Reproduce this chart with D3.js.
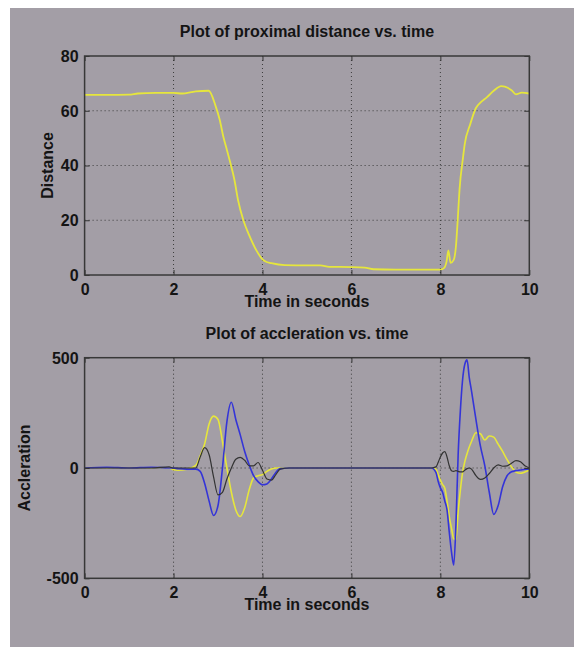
<!DOCTYPE html>
<html>
<head>
<meta charset="utf-8">
<script src="https://cdn.jsdelivr.net/npm/d3@7"></script>
<style>
  body { margin: 0; background: #fff; }
  text { font-family: "Liberation Sans", Arial, sans-serif; }
</style>
</head>
<body>
<div class="viz"></div>
<script>
const width = 574;
const height = 647;

// proximal distance vs time
const distTime = [0, 0.5, 1.0, 1.2, 1.6, 2.0, 2.2, 2.4, 2.5, 2.79, 2.95, 3.04, 3.12, 3.2, 3.28, 3.37, 3.45, 3.57,
  3.7, 3.86, 3.98, 4.07, 4.2, 4.5, 5.0, 5.3, 5.5, 6.0, 6.3, 6.5, 7.0, 7.5, 8.0, 8.08, 8.14, 8.18, 8.23, 8.3,
  8.35, 8.39, 8.43, 8.51, 8.55, 8.67, 8.8, 8.9, 9.05, 9.2, 9.37, 9.45, 9.6, 9.7, 9.83, 10];
const distance = [65.8, 65.8, 65.9, 66.3, 66.5, 66.5, 66.3, 66.8, 67.1, 67.3, 61.5, 56.6, 50.5, 45.7, 40.8, 34.7, 27.4, 20,
  14.6, 9.1, 6.1, 4.9, 4.3, 3.6, 3.5, 3.5, 3.0, 2.9, 2.7, 2.1, 2.0, 2.0, 2.0, 2.5, 5, 9, 4.4, 5.5,
  10.4, 20, 31, 43, 48, 55, 61, 63, 65, 67.3, 69, 68.8, 67.5, 66, 66.6, 66.3];

// acceleration vs time (three signals on a shared time base)
const accTime = [0, 0.5, 1.0, 1.5, 1.9, 2.0, 2.1, 2.3, 2.5, 2.6, 2.7, 2.8, 2.9, 3.0, 3.1, 3.2, 3.3, 3.4, 3.5, 3.6,
  3.7, 3.8, 3.9, 4.0, 4.1, 4.2, 4.3, 4.4, 4.6, 5.0, 6.0, 7.0, 7.8, 7.9, 7.95, 8.0, 8.05, 8.1, 8.15, 8.2,
  8.25, 8.3, 8.35, 8.4, 8.45, 8.5, 8.55, 8.6, 8.65, 8.7, 8.8, 8.9, 9.0, 9.1, 9.2, 9.3, 9.4, 9.5, 9.6, 9.7,
  9.8, 9.9, 10];
const accYellow = [0, 0, 0, 0, 0, -8, -10, -5, 12, 55, 110, 200, 235, 220, 120, 0, -110, -190, -220, -180,
  -100, -45, -35, -30, -15, -5, 0, 0, 0, 0, 0, 0, 0, -5, -30, -55, -75, -92, -150, -220,
  -273, -320, -325, -198, -100, -20, 29, 65, 95, 120, 160, 155, 127, 145, 140, 108, 75, 38, 5, -18,
  -24, -18, -10];
const accBlue = [0, 3, 0, 3, 0, 0, -3, -5, -5, -15, -70, -150, -215, -170, 0, 210, 298, 220, 150, 75,
  15, -35, -62, -76, -72, -50, -20, -3, 0, 0, 0, 0, 0, -20, -60, -90, -110, -150, -190, -290,
  -380, -440, -260, 60, 260, 400, 470, 490, 410, 350, 220, 100, 10, -110, -210, -170, -85, -35, -17, -12,
  -9, -6, -4];
const accBlack = [0, 0, 0, 0, 5, 0, 0, 0, 0, 50, 92, 60, -40, -122, -110, -50, 0, 40, 48, 35,
  10, 10, 25, -10, -50, -55, -30, -5, 0, 0, 0, 0, 0, 5, 25, 50, 68, 74, 50, 10,
  -12, -15, -12, -15, -18, -18, -10, -3, 0, -5, -35, -52, -45, -25, 0, 14, 8, 10, 22, 33,
  28, 10, 0];

const timeTicks = [0, 2, 4, 6, 8, 10];
const distTicks = [0, 20, 40, 60, 80];
const accTicks = [-500, 0, 500];

const bg = "#a39ea6";
const ink = "#141414";
const fontSpec = "bold 16px 'Liberation Sans', Arial, sans-serif";

const svg = d3.select(".viz")
    .append("svg")
    .attr("width", width)
    .attr("height", height);

svg.append("rect")
    .attr("x", 10).attr("y", 8)
    .attr("width", width - 10).attr("height", height - 8)
    .attr("fill", bg);

const left = 84.6, right = 529.3;

function drawPanel(cfg) {
    const x = d3.scaleLinear().domain([0, 10]).range([left, right]);
    const y = d3.scaleLinear().domain(cfg.domain).range([cfg.bottom, cfg.top]);
    const g = svg.append("g");

    // dotted grid
    g.selectAll(".vgrid")
        .data(timeTicks.slice(1, -1))
        .enter().append("line")
        .attr("x1", d => x(d)).attr("x2", d => x(d))
        .attr("y1", cfg.top).attr("y2", cfg.bottom)
        .attr("stroke", "#3c3c3c").attr("stroke-width", 1)
        .attr("stroke-dasharray", "1,3");
    g.selectAll(".hgrid")
        .data(cfg.ticks.slice(1, -1))
        .enter().append("line")
        .attr("x1", left).attr("x2", right)
        .attr("y1", d => y(d)).attr("y2", d => y(d))
        .attr("stroke", "#3c3c3c").attr("stroke-width", 1)
        .attr("stroke-dasharray", "1,3");

    // lines
    cfg.series.forEach(s => {
        const line = d3.line()
            .x((d, i) => x(cfg.time[i]))
            .y(d => y(d))
            .curve(d3.curveMonotoneX);
        g.append("path")
            .datum(s.values)
            .attr("d", line)
            .attr("fill", "none")
            .attr("stroke", s.color)
            .attr("stroke-width", s.width);
    });

    // axes: labels bottom/left, inward ticks on all four sides
    const fmt = d => String(d);
    const xa = g.append("g").attr("transform", `translate(0,${cfg.bottom})`)
        .call(d3.axisBottom(x).tickValues(timeTicks).tickFormat(fmt).tickSize(-5).tickSizeOuter(0).tickPadding(8.5));
    const ya = g.append("g").attr("transform", `translate(${left},0)`)
        .call(d3.axisLeft(y).tickValues(cfg.ticks).tickFormat(fmt).tickSize(-5).tickSizeOuter(0).tickPadding(6));
    g.append("g").attr("transform", `translate(0,${cfg.top})`)
        .call(d3.axisTop(x).tickValues(timeTicks).tickFormat("").tickSize(-5).tickSizeOuter(0));
    g.append("g").attr("transform", `translate(${right},0)`)
        .call(d3.axisRight(y).tickValues(cfg.ticks).tickFormat("").tickSize(-5).tickSizeOuter(0));

    g.selectAll(".domain").remove();
    g.selectAll(".tick line").attr("stroke", "#333").attr("stroke-width", 1);
    [xa, ya].forEach(a => a.selectAll("text")
        .style("font", fontSpec).attr("fill", ink));
    ya.selectAll("text").attr("dy", "0.34em");

    // box
    g.append("rect")
        .attr("x", left).attr("y", cfg.top)
        .attr("width", right - left).attr("height", cfg.bottom - cfg.top)
        .attr("fill", "none").attr("stroke", "#383838").attr("stroke-width", 1.5);

    // texts
    g.append("text")
        .attr("x", (left + right) / 2).attr("y", cfg.top - 19)
        .attr("text-anchor", "middle")
        .style("font", fontSpec).attr("fill", ink)
        .text(cfg.title);
    g.append("text")
        .attr("x", (left + right) / 2).attr("y", cfg.bottom + 32)
        .attr("text-anchor", "middle")
        .style("font", fontSpec).attr("fill", ink)
        .text("Time in seconds");
    g.append("text")
        .attr("transform", `translate(${cfg.ylabelX},${(cfg.top + cfg.bottom) / 2}) rotate(-90)`)
        .attr("text-anchor", "middle")
        .style("font", fontSpec).attr("fill", ink)
        .text(cfg.ylabel);
}

drawPanel({
    top: 56, bottom: 275,
    domain: [0, 80], ticks: distTicks,
    title: "Plot of proximal distance vs. time",
    ylabel: "Distance", ylabelX: 53,
    time: distTime,
    series: [{ values: distance, color: "#e6e63c", width: 1.8 }]
});

drawPanel({
    top: 357.7, bottom: 578.3,
    domain: [-500, 500], ticks: accTicks,
    title: "Plot of accleration vs. time",
    ylabel: "Accleration", ylabelX: 30,
    time: accTime,
    series: [
        { values: accYellow, color: "#e6e63c", width: 1.6 },
        { values: accBlue, color: "#3434d8", width: 1.6 },
        { values: accBlack, color: "#333333", width: 1.2 }
    ]
});
</script>
</body>
</html>
